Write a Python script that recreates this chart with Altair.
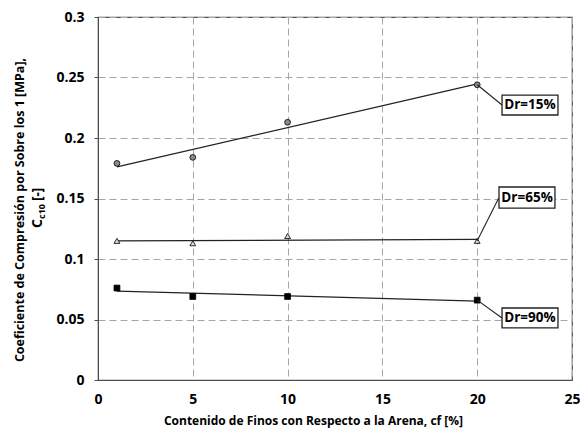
import altair as alt
import pandas as pd

# Fines content (%) and compression coefficient Cc10 for each relative density
fines = [1, 5, 10, 20]
cc_dr15 = [0.179, 0.184, 0.213, 0.244]
cc_dr65 = [0.115, 0.113, 0.119, 0.115]
cc_dr90 = [0.076, 0.069, 0.069, 0.066]
series = ["Dr=15%", "Dr=65%", "Dr=90%"]

x_ticks = [0, 5, 10, 15, 20, 25]
y_ticks = [0, 0.05, 0.1, 0.15, 0.2, 0.25, 0.3]

x_title = "Contenido de Finos con Respecto a la Arena, cf [%]"
y_title_line1 = "Coeficiente de Compresión por Sobre los 1 [MPa],"
y_title_parts = ["C", "c10", "[-]"]

# Callout boxes (data coordinates): centre, left/right edges, top/bottom
box_cx = [22.78, 22.63, 22.78]
box_cy = [0.2273, 0.1508, 0.0512]
box_x1 = [21.31, 21.15, 21.31]
box_x2 = [24.26, 24.10, 24.26]
box_y1 = [0.2355, 0.1595, 0.0595]
box_y2 = [0.2190, 0.1421, 0.0430]

FONT = "Open Sans"
FRAME = "#4d4d4d"

values = [cc_dr15, cc_dr65, cc_dr90]
df = pd.DataFrame(
    [{"cf": f, "cc": v, "serie": s} for s, vals in zip(series, values) for f, v in zip(fines, vals)]
)

ann = pd.DataFrame({
    "serie": series,
    "px": [fines[-1]] * 3,
    "py": [v[-1] for v in values],
    "cx": box_cx, "cy": box_cy,
    "x1": box_x1, "x2": box_x2, "y1": box_y1, "y2": box_y2,
})

xs = alt.Scale(domain=[0, 25], nice=False)
ys = alt.Scale(domain=[0, 0.3], nice=False)

x_axis = alt.Axis(
    values=x_ticks, title=x_title, grid=True, gridDash=[7, 4], gridColor="#a6a6a6",
    domainColor=FRAME, tickColor=FRAME, tickSize=0, labelPadding=12,
    labelFont=FONT, labelFontSize=14, labelFontWeight="bold", labelColor="#000",
    titleFont=FONT, titleFontSize=12, titleFontWeight="bold", titleColor="#000",
    titleX=215, titleY=44, titleAlign="center", titleBaseline="alphabetic",
    labelFlush=False,
)
y_axis = alt.Axis(
    values=y_ticks, format=".2~f", title=None, grid=True, gridDash=[7, 4], gridColor="#a6a6a6",
    domainColor=FRAME, tickColor=FRAME, tickSize=4, labelPadding=10,
    labelFont=FONT, labelFontSize=14, labelFontWeight="bold", labelColor="#000",
)

base = alt.Chart(df)

points = base.mark_point(filled=True, size=34, stroke="#000", strokeWidth=0.8, opacity=1).encode(
    x=alt.X("cf:Q", scale=xs, axis=x_axis),
    y=alt.Y("cc:Q", scale=ys, axis=y_axis),
    shape=alt.Shape("serie:N", scale=alt.Scale(domain=series, range=["circle", "triangle-up", "square"]), legend=None),
    fill=alt.Fill("serie:N", scale=alt.Scale(domain=series, range=["#8a8a8a", "#d9d9d9", "#000000"]), legend=None),
)

trend = base.transform_regression("cf", "cc", groupby=["serie"], extent=[1, 20]).mark_line(
    color="#222", strokeWidth=1.2
).encode(x=alt.X("cf:Q", scale=xs), y=alt.Y("cc:Q", scale=ys), detail="serie:N")

annb = alt.Chart(ann)
connectors = annb.mark_rule(color="#222", strokeWidth=1.1).encode(
    x=alt.X("px:Q", scale=xs), y=alt.Y("py:Q", scale=ys), x2="x1:Q", y2="cy:Q"
)
boxes = annb.mark_rect(fill="white", stroke="#222", strokeWidth=1.3).encode(
    x=alt.X("x1:Q", scale=xs), x2="x2:Q", y=alt.Y("y1:Q", scale=ys), y2="y2:Q"
)
labels = annb.mark_text(font=FONT, fontSize=13.5, fontWeight="bold", color="#000").encode(
    x=alt.X("cx:Q", scale=xs), y=alt.Y("cy:Q", scale=ys), text="serie:N"
)

# Two-line rotated y title, second line with subscript
t1 = alt.Chart(pd.DataFrame({"t": [y_title_line1]})).mark_text(
    font=FONT, fontSize=12.5, fontWeight="bold", angle=270, align="center", baseline="middle", color="#000"
).encode(x=alt.value(-78), y=alt.value(193), text="t:N")
t2a = alt.Chart(pd.DataFrame({"t": [y_title_parts[0]]})).mark_text(
    font=FONT, fontSize=14, fontWeight="bold", angle=270, align="left", baseline="alphabetic", color="#000"
).encode(x=alt.value(-56), y=alt.value(211), text="t:N")
t2b = alt.Chart(pd.DataFrame({"t": [y_title_parts[1]]})).mark_text(
    font=FONT, fontSize=9, fontWeight="bold", angle=270, align="left", baseline="alphabetic", color="#000"
).encode(x=alt.value(-53), y=alt.value(202), text="t:N")
t2c = alt.Chart(pd.DataFrame({"t": [y_title_parts[2]]})).mark_text(
    font=FONT, fontSize=13.5, fontWeight="bold", angle=270, align="left", baseline="alphabetic", color="#000"
).encode(x=alt.value(-56), y=alt.value(184), text="t:N")

chart = alt.layer(trend, points, connectors, boxes, labels, t1, t2a, t2b, t2c).properties(
    width=474, height=363,
    autosize=alt.AutoSizeParams(type="none"),
    padding={"left": 98, "top": 17, "right": 8, "bottom": 49},
    background="white",
).configure_view(stroke=FRAME, strokeWidth=1.2)

chart.save("out.html", embed_options={"renderer": "svg", "actions": False})
